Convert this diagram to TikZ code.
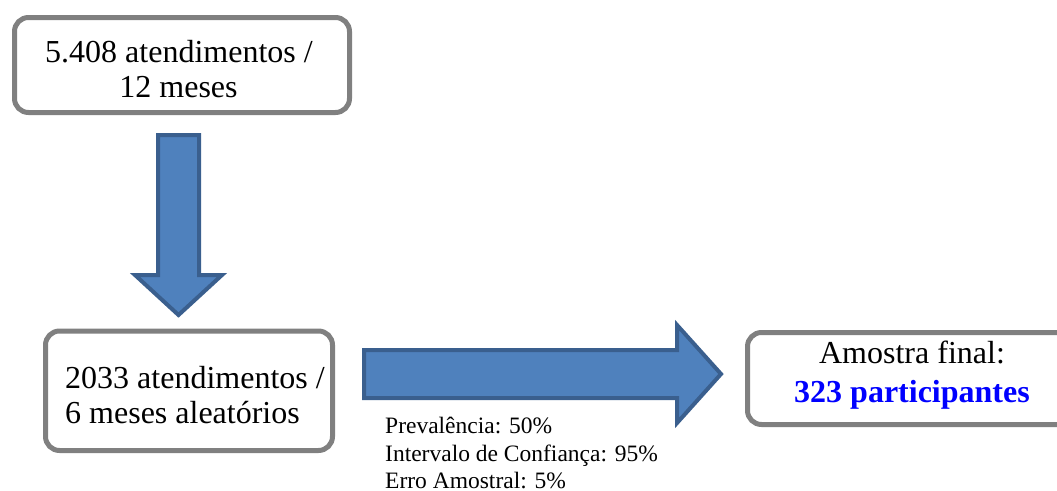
\documentclass[tikz,border=0pt]{standalone}
\usepackage{fontspec}
\setmainfont{Liberation Serif}
\definecolor{boxgray}{RGB}{128,128,128}
\definecolor{arrfill}{RGB}{79,129,189}
\definecolor{arrdraw}{RGB}{58,95,142}
\definecolor{pblue}{RGB}{0,0,255}
\tikzset{
  roundbox/.style={draw=boxgray, line width=5pt, rounded corners=14pt, fill=white, inner sep=0pt},
  bigtxt/.style={font=\fontsize{32}{37}\selectfont, inner sep=0pt, anchor=base},
  smalltxt/.style={font=\fontsize{23.5}{28}\selectfont, inner sep=0pt, anchor=base west},
  blockarrow/.style={fill=arrfill, draw=arrdraw, line width=4pt, line join=miter}
}
\begin{document}
\begin{tikzpicture}[x=1pt,y=-1pt]
\useasboundingbox (0,0) rectangle (1057,490);
% boxes
\node[roundbox, minimum width=335pt, minimum height=95pt] (b1) at (182,65) {};
\node[roundbox, minimum width=287pt, minimum height=119.5pt] (b2) at (189,390.75) {};
\node[roundbox, minimum width=329pt, minimum height=92pt] (b3) at (912,378.5) {};
% box texts
\node[bigtxt] (t1a) at (179,62) {5.408 atendimentos /};
\node[bigtxt] (t1b) at (178.5,97) {12 meses};
\node[bigtxt, anchor=base west] (t2a) at (65,388) {2033 atendimentos /};
\node[bigtxt, anchor=base west] (t2b) at (65,423) {6 meses aleatórios};
\node[bigtxt] (t3a) at (912,363) {Amostra final:};
\node[bigtxt, text=pblue, font=\fontsize{32}{37}\selectfont\bfseries] (t3b) at (912,402) {323 participantes};
% down arrow
\draw[blockarrow] (158,135) -- (199,135) -- (199,275) -- (222,275) -- (178.5,315) -- (135,275) -- (158,275) -- cycle;
% right arrow
\draw[blockarrow] (364,350) -- (677,350) -- (677,325) -- (721,374) -- (677,423) -- (677,398) -- (364,398) -- cycle;
% parameters
\node[smalltxt] (p1) at (385,433) {Prevalência: 50\%};
\node[smalltxt] (p2) at (385,461) {Intervalo de Confiança: 95\%};
\node[smalltxt] (p3) at (385,488) {Erro Amostral: 5\%};
\end{tikzpicture}
\end{document}
